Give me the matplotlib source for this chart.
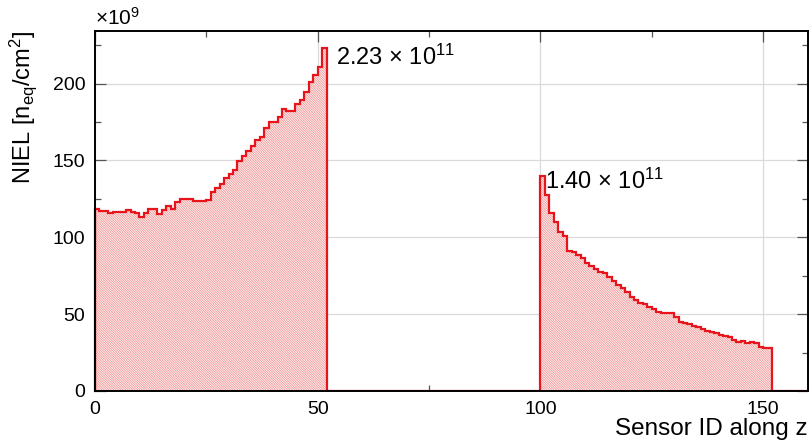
import numpy as np
import matplotlib
matplotlib.use("Agg")
import matplotlib.pyplot as plt
from matplotlib.ticker import MultipleLocator

plt.rcParams['font.family'] = ['Liberation Sans', 'DejaVu Sans']
plt.rcParams['hatch.linewidth'] = 0.5
plt.rcParams['mathtext.fontset'] = 'custom'
plt.rcParams['mathtext.rm'] = 'Liberation Sans'
plt.rcParams['mathtext.it'] = 'Liberation Sans'

# NIEL per sensor, in units of 1e9 n_eq/cm^2
sensor_start_a = 0
niel_a = [118.3, 116.8, 116.8, 116.0, 116.7, 116.7, 116.7, 118.0, 116.5, 116.0,
          113.5, 115.5, 118.3, 118.3, 115.0, 117.7, 120.5, 118.3, 123.0, 124.6,
          124.6, 124.6, 123.8, 123.8, 123.8, 124.5, 129.2, 132.2, 134.6, 138.6,
          141.2, 143.8, 149.9, 153.2, 156.4, 159.7, 163.0, 165.0, 171.0, 175.0,
          175.0, 178.2, 183.7, 182.0, 182.0, 187.0, 189.0, 194.6, 201.0, 205.4,
          210.9, 223.0]
sensor_start_b = 100
niel_b = [140.0, 127.5, 116.0, 110.0, 103.6, 100.8, 91.3, 90.6, 88.5, 86.3,
          83.5, 81.3, 79.2, 77.6, 76.6, 74.4, 71.8, 69.0, 66.8, 64.6,
          61.4, 59.2, 57.5, 56.6, 54.8, 53.2, 51.6, 50.5, 51.0, 50.5,
          48.4, 45.1, 44.1, 43.4, 42.5, 41.8, 40.3, 39.2, 38.6, 37.5,
          36.4, 35.8, 34.9, 33.2, 32.1, 32.5, 31.4, 32.1, 31.0, 28.8,
          28.2, 27.8]
n_bins = 160
peak_labels = ["2.23 × 10$^{11}$", "1.40 × 10$^{11}$"]

values = np.zeros(n_bins)
values[sensor_start_a:sensor_start_a + len(niel_a)] = niel_a
values[sensor_start_b:sensor_start_b + len(niel_b)] = niel_b
edges = np.arange(n_bins + 1)

fig = plt.figure(figsize=(8.11, 4.41), dpi=100)
ax = fig.add_axes([0.117, 0.1134, 0.879, 0.8163])

red = '#e8141c'
ax.stairs(values, edges, fill=True, facecolor='#fdf0f0', edgecolor='#f08c8c',
          hatch='\\' * 14, linewidth=0, zorder=2)
ax.stairs(values, edges, baseline=0, color=red, linewidth=1.6, zorder=3)
# close the outline down to zero at the left edge
ax.plot([0, 0], [0, values[0]], color=red, lw=1.6, zorder=3, clip_on=False)

ax.set_xlim(0, n_bins)
ax.set_ylim(0, 234.2)

ax.grid(True, color='#dadada', lw=0.9, zorder=1)
ax.set_axisbelow(True)

ax.xaxis.set_major_locator(MultipleLocator(50))
ax.xaxis.set_minor_locator(MultipleLocator(25))
ax.yaxis.set_major_locator(MultipleLocator(50))
ax.yaxis.set_minor_locator(MultipleLocator(25))
ax.tick_params(which='both', direction='in', top=True, right=True,
               labelsize=14, color='#555555')
ax.tick_params(which='major', length=8, width=0.9, pad=7)
ax.tick_params(which='minor', length=4, width=0.9)
for s in ax.spines.values():
    s.set_linewidth(1.4)
    s.set_zorder(5)

ax.set_xlabel('Sensor ID along z', fontsize=17.5, loc='right', labelpad=0)
ax.set_ylabel('NIEL [n$_{\\mathrm{eq}}$/cm$^{2}$]', fontsize=17, loc='top', labelpad=10)
ax.text(0.0, 1.006, '×10$^{9}$', transform=ax.transAxes, fontsize=15,
        ha='left', va='bottom')

ax.text(54.2, 217, peak_labels[0], fontsize=17, ha='left', va='center')
ax.text(101, 136.6, peak_labels[1], fontsize=17, ha='left', va='center')

fig.savefig('out.png', dpi=100)
